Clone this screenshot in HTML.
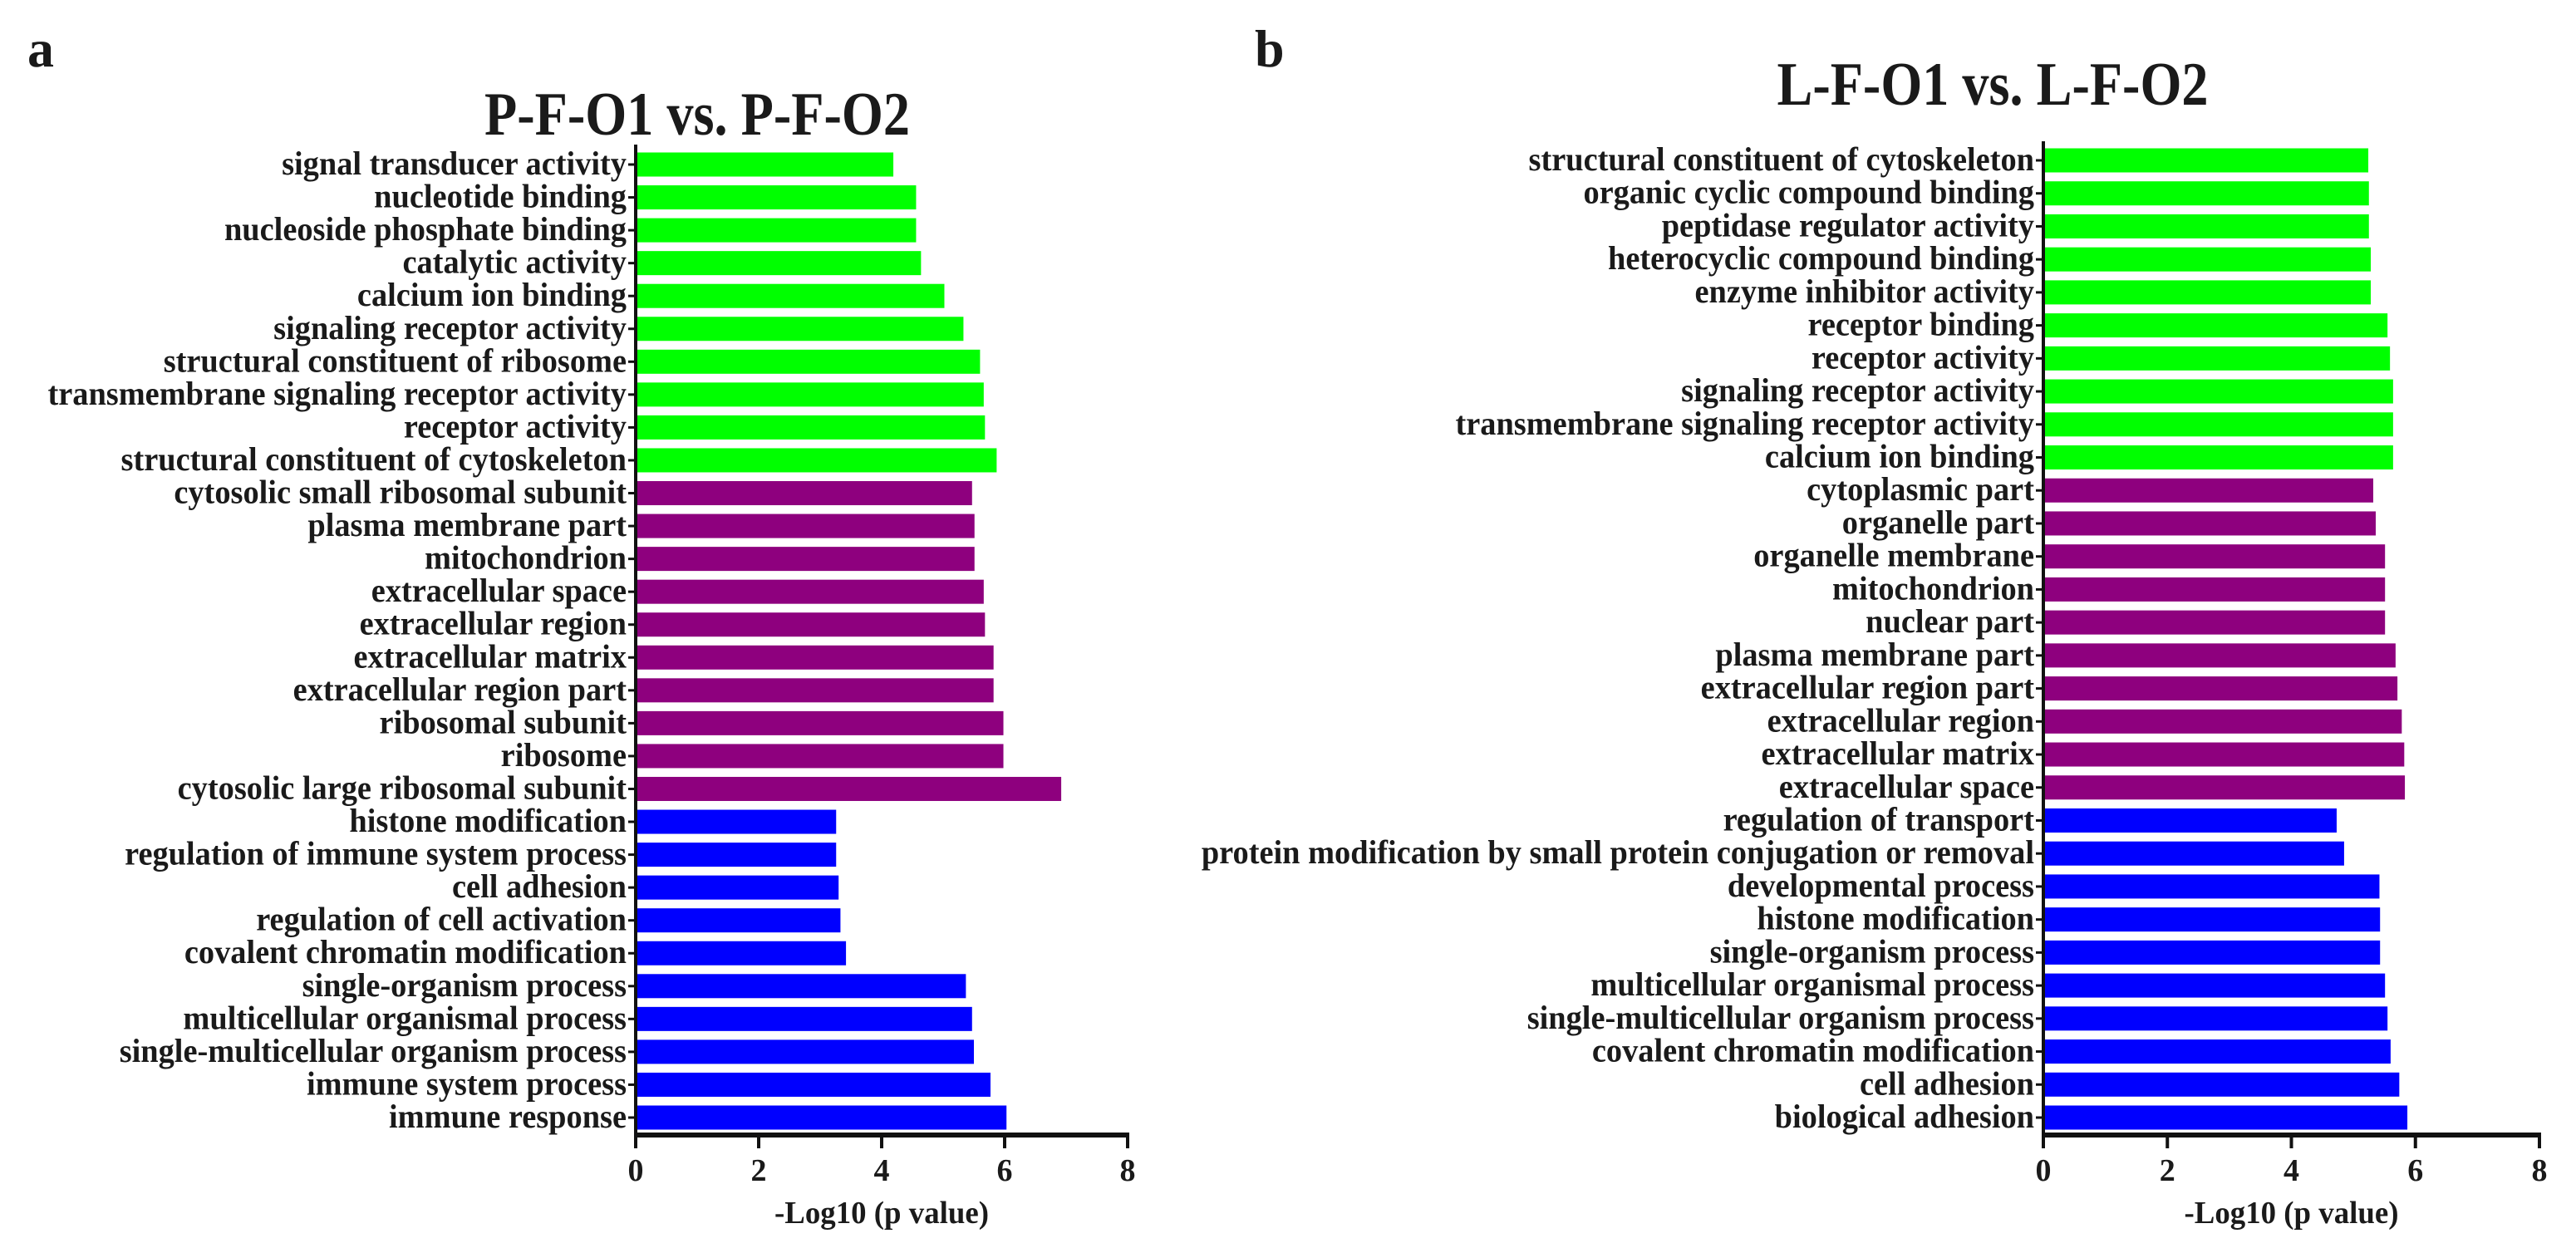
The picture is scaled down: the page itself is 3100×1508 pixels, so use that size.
<!DOCTYPE html>
<html><head><meta charset="utf-8"><style>
body{margin:0;background:#fff}
svg{display:block}
text{font-family:"Liberation Serif",serif;font-weight:bold;fill:#1a1a1a}
</style></head><body>
<svg id="fig" width="3100" height="1508" viewBox="0 0 3100 1508" xmlns="http://www.w3.org/2000/svg">
<text x="33" y="80" font-size="64">a</text>
<text x="1510" y="80" font-size="64">b</text>
<text x="839" y="162" font-size="74" text-anchor="middle" textLength="512" lengthAdjust="spacingAndGlyphs">P-F-O1 vs. P-F-O2</text>
<text x="2398" y="126" font-size="74" text-anchor="middle" textLength="519" lengthAdjust="spacingAndGlyphs">L-F-O1 vs. L-F-O2</text>
<g id="ga"></g>
<g id="gb"></g>
</svg>
<script>
const catsA = ["signal transducer activity","nucleotide binding","nucleoside phosphate binding","catalytic activity","calcium ion binding","signaling receptor activity","structural constituent of ribosome","transmembrane signaling receptor activity","receptor activity","structural constituent of cytoskeleton","cytosolic small ribosomal subunit","plasma membrane part","mitochondrion","extracellular space","extracellular region","extracellular matrix","extracellular region part","ribosomal subunit","ribosome","cytosolic large ribosomal subunit","histone modification","regulation of immune system process","cell adhesion","regulation of cell activation","covalent chromatin modification","single-organism process","multicellular organismal process","single-multicellular organism process","immune system process","immune response"];
const valsA = [4.19,4.56,4.56,4.64,5.02,5.33,5.6,5.66,5.68,5.87,5.47,5.51,5.51,5.66,5.68,5.82,5.82,5.98,5.98,6.92,3.26,3.26,3.3,3.33,3.42,5.37,5.47,5.5,5.77,6.03];
const groupsA = ["mf","mf","mf","mf","mf","mf","mf","mf","mf","mf","cc","cc","cc","cc","cc","cc","cc","cc","cc","cc","bp","bp","bp","bp","bp","bp","bp","bp","bp","bp"];
const catsB = ["structural constituent of cytoskeleton","organic cyclic compound binding","peptidase regulator activity","heterocyclic compound binding","enzyme inhibitor activity","receptor binding","receptor activity","signaling receptor activity","transmembrane signaling receptor activity","calcium ion binding","cytoplasmic part","organelle part","organelle membrane","mitochondrion","nuclear part","plasma membrane part","extracellular region part","extracellular region","extracellular matrix","extracellular space","regulation of transport","protein modification by small protein conjugation or removal","developmental process","histone modification","single-organism process","multicellular organismal process","single-multicellular organism process","covalent chromatin modification","cell adhesion","biological adhesion"];
const valsB = [5.24,5.25,5.25,5.28,5.28,5.55,5.59,5.64,5.64,5.64,5.32,5.36,5.51,5.51,5.51,5.68,5.71,5.78,5.82,5.83,4.73,4.85,5.42,5.43,5.43,5.51,5.55,5.6,5.74,5.87];
const groupsB = groupsA.slice();
const ticks = [0,2,4,6,8];
const axisTitle = "-Log10 (p value)";

const NS="http://www.w3.org/2000/svg";
const colors={mf:"#00ff00",cc:"#8e007e",bp:"#0000ff"};
function mk(tag,attrs,parent){const e=document.createElementNS(NS,tag);for(const k in attrs)e.setAttribute(k,attrs[k]);parent.appendChild(e);return e;}

function draw(g,cats,vals,groups,x0,x8,yFirst,yLast,axisTop,axisY,pfx){
  const xs=v=>x0+(x8-x0)*v/8;
  const step=(yLast-yFirst)/(cats.length-1);
  const ys=i=>yFirst+i*step;
  const bh=29;
  const probe=mk('text',{'font-size':40,x:0,y:-100},g);
  probe.textContent="signal transducer activity";
  const k=415/probe.getComputedTextLength();
  g.removeChild(probe);
  cats.forEach((c,i)=>{
    const r=mk('rect',{x:x0,y:ys(i)-bh/2,width:xs(vals[i])-x0,height:bh,fill:colors[groups[i]]},g);
    
    
    const tk=mk('line',{x1:x0-9,x2:x0,y1:ys(i),y2:ys(i),stroke:'#111','stroke-width':3},g);
    
    
    const t=mk('text',{'font-size':40,'text-anchor':'end',transform:`translate(${x0-11},${ys(i)+12}) scale(${k},1)`},g);
    t.textContent=c;
    
    
  });
  const ya=mk('line',{x1:x0,x2:x0,y1:axisTop,y2:axisY+2,stroke:'#111','stroke-width':4},g);
  
  
  const xa=mk('line',{x1:x0-2,x2:x8+2,y1:axisY,y2:axisY,stroke:'#111','stroke-width':6},g);
  
  
  ticks.forEach(v=>{
    const l=mk('line',{x1:xs(v),x2:xs(v),y1:axisY,y2:axisY+16,stroke:'#111','stroke-width':4},g);
    
    
    const t=mk('text',{'font-size':38,'text-anchor':'middle',x:xs(v),y:axisY+55},g);
    t.textContent=v;
    
    
  });
  const at=mk('text',{'font-size':38,'text-anchor':'middle',x:xs(4),y:axisY+106,textLength:258,lengthAdjust:'spacingAndGlyphs'},g);
  at.textContent=axisTitle;
  
  
}
draw(document.getElementById('ga'),catsA,valsA,groupsA,765,1357,198,1345,174,1366,'a');
draw(document.getElementById('gb'),catsB,valsB,groupsB,2459,3056,193,1345,170,1366,'b');
</script>
</body></html>
